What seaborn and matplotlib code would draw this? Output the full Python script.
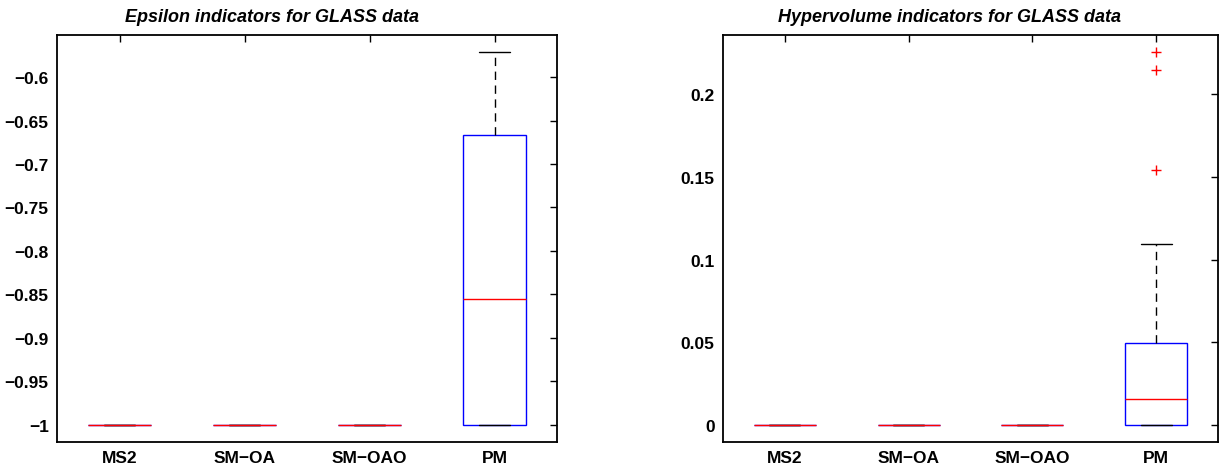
import pandas as pd
import matplotlib
matplotlib.use("Agg")
import matplotlib.pyplot as plt
import seaborn as sns
from matplotlib.ticker import FuncFormatter

# Data
methods = ["MS2", "SM-OA", "SM-OAO", "PM"]
eps_ms2 = [-1.0] * 9
eps_smoa = [-1.0] * 9
eps_smoao = [-1.0] * 9
eps_pm = [-1.0, -1.0, -1.0, -0.95, -0.856, -0.75, -0.667, -0.62, -0.571]
hv_ms2 = [0.0] * 17
hv_smoa = [0.0] * 17
hv_smoao = [0.0] * 17
hv_pm = [0.0, 0.0, 0.0, 0.0, 0.0, 0.003, 0.006, 0.01, 0.0158, 0.022, 0.03,
         0.04, 0.0497, 0.1097, 0.154, 0.2145, 0.2255]
eps_ticks = [-1, -0.95, -0.9, -0.85, -0.8, -0.75, -0.7, -0.65, -0.6]
hv_ticks = [0, 0.05, 0.1, 0.15, 0.2]


def long_df(groups):
    rows = []
    for name, vals in zip(methods, groups):
        rows += [(name, v) for v in vals]
    return pd.DataFrame(rows, columns=["method", "value"])


eps_df = long_df([eps_ms2, eps_smoa, eps_smoao, eps_pm])
hv_df = long_df([hv_ms2, hv_smoa, hv_smoao, hv_pm])

sns.set_style("white")
plt.rcParams["font.family"] = ["Liberation Sans", "DejaVu Sans"]
plt.rcParams["text.color"] = "black"
plt.rcParams["xtick.color"] = "black"
plt.rcParams["ytick.color"] = "black"
plt.rcParams["axes.labelcolor"] = "black"

fig = plt.figure(figsize=(12.22, 4.77), dpi=100)
ax1 = fig.add_axes([57 / 1222, 34 / 477, 500 / 1222, 407 / 477])
ax2 = fig.add_axes([723 / 1222, 34 / 477, 495 / 1222, 407 / 477])

box_kws = dict(
    x="method", y="value", order=methods, width=0.5, whis=1.5,
    linewidth=1.0, saturation=1,
    boxprops=dict(facecolor="white", edgecolor="#0000ff", linewidth=1.0),
    medianprops=dict(color="#ff0000", linewidth=1.0),
    whiskerprops=dict(color="black", linestyle=(0, (6, 4)), linewidth=1.0),
    capprops=dict(color="black", linewidth=1.0),
    flierprops=dict(marker="+", markeredgecolor="#ff0000", markersize=7,
                    markeredgewidth=1.0),
)

sns.boxplot(data=eps_df, ax=ax1, **box_kws)
sns.boxplot(data=hv_df, ax=ax2, **box_kws)

fmt = FuncFormatter(lambda v, p: ("%g" % v).replace("-", "\u2212"))
ax1.set_ylim(-1.02, -0.5516)
ax1.set_yticks(eps_ticks)
ax2.set_ylim(-0.0103, 0.2358)
ax2.set_yticks(hv_ticks)

titles = ["Epsilon indicators for GLASS data", "Hypervolume indicators for GLASS data"]
title_x = [0.43, 0.458]
for ax, t, tx in zip([ax1, ax2], titles, title_x):
    ax.set_xlim(-0.5, 3.5)
    ax.yaxis.set_major_formatter(fmt)
    ax.set_xticks(range(len(methods)))
    ax.set_xticklabels([m.replace("-", "\u2212") for m in methods])
    ax.set_xlabel("")
    ax.set_ylabel("")
    ax.set_title(t, fontsize=13, fontweight="bold", fontstyle="italic",
                 x=tx, pad=10, color="black")
    ax.tick_params(direction="in", length=5, width=1, top=True, right=True,
                   labelsize=12.5, pad=6, color="black", labelcolor="black")
    for lab in ax.get_xticklabels() + ax.get_yticklabels():
        lab.set_fontweight("bold")
    for s in ax.spines.values():
        s.set_visible(True)
        s.set_color("black")
        s.set_linewidth(1.3)

fig.savefig("out.png", dpi=100)
